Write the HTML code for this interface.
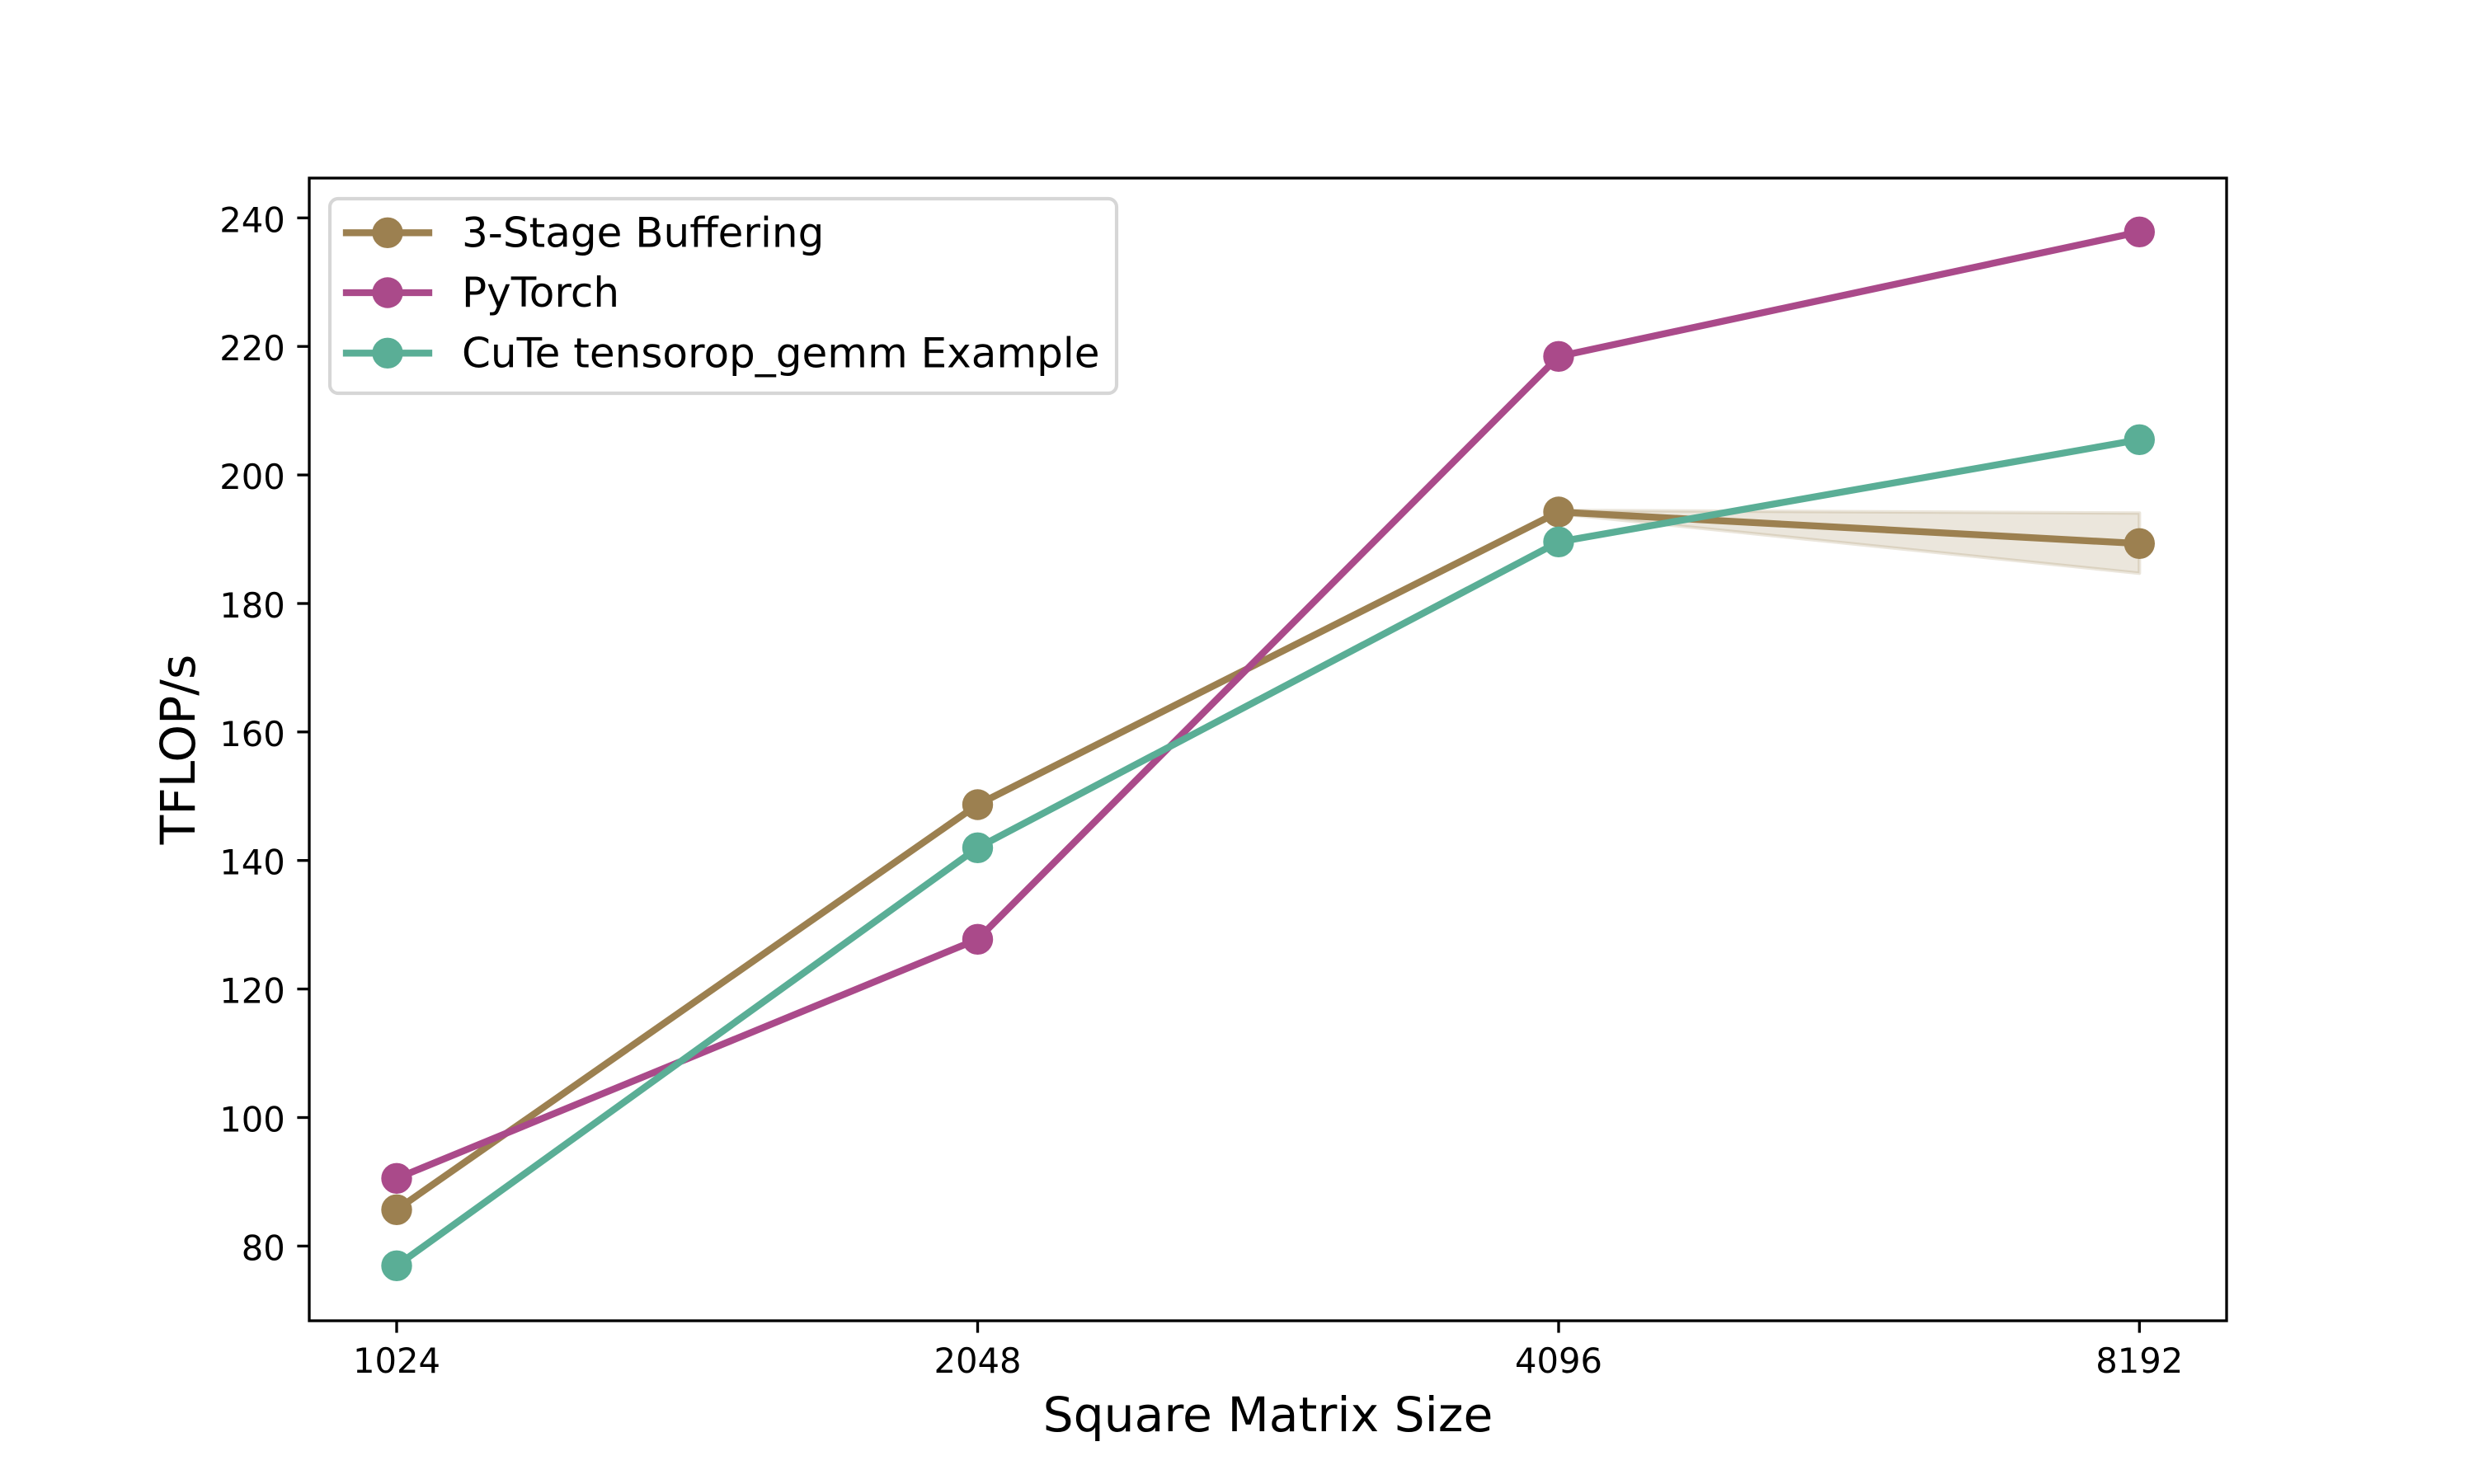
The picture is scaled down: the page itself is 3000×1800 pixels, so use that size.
<!DOCTYPE html>
<html>
<head>
<meta charset="utf-8">
<style>
html,body{margin:0;padding:0;background:#fff;}
svg{display:block;}
text{font-family:"DejaVu Sans","Liberation Sans",sans-serif;fill:#000;}
</style>
</head>
<body>
<svg width="3000" height="1800" viewBox="0 0 3000 1800" xmlns="http://www.w3.org/2000/svg">
<rect x="0" y="0" width="3000" height="1800" fill="#ffffff"/>

<!-- fill band for 3-Stage -->
<polygon points="481,1467.3 1185.5,976 1890,619 2594.3,622.3 2594.3,695.3 1890,623 1185.5,976 481,1467.3"
 fill="#9C8050" fill-opacity="0.2" stroke="#9C8050" stroke-opacity="0.2" stroke-width="4.17" stroke-linejoin="round"/>

<!-- 3-Stage Buffering -->
<g stroke="#9C8050" fill="#9C8050">
<polyline points="481,1467.3 1185.5,976 1890,621 2594.3,659.3" fill="none" stroke-width="8.33" stroke-linejoin="round" stroke-linecap="square"/>
<g stroke="none">
<circle cx="481" cy="1467.3" r="18.7"/>
<circle cx="1185.5" cy="976" r="18.7"/>
<circle cx="1890" cy="621" r="18.7"/>
<circle cx="2594.3" cy="659.3" r="18.7"/>
</g>
</g>

<!-- PyTorch -->
<g stroke="#AA4A8A" fill="#AA4A8A">
<polyline points="481,1429.3 1185.5,1139.3 1890,432.3 2594.3,281.3" fill="none" stroke-width="8.33" stroke-linejoin="round" stroke-linecap="square"/>
<g stroke="none">
<circle cx="481" cy="1429.3" r="18.7"/>
<circle cx="1185.5" cy="1139.3" r="18.7"/>
<circle cx="1890" cy="432.3" r="18.7"/>
<circle cx="2594.3" cy="281.3" r="18.7"/>
</g>
</g>

<!-- CuTe -->
<g stroke="#5AAE96" fill="#5AAE96">
<polyline points="481,1535.3 1185.5,1028.3 1890,657.3 2594.3,533.3" fill="none" stroke-width="8.33" stroke-linejoin="round" stroke-linecap="square"/>
<g stroke="none">
<circle cx="481" cy="1535.3" r="18.7"/>
<circle cx="1185.5" cy="1028.3" r="18.7"/>
<circle cx="1890" cy="657.3" r="18.7"/>
<circle cx="2594.3" cy="533.3" r="18.7"/>
</g>
</g>

<!-- axes spines -->
<rect x="375" y="216" width="2325" height="1386" fill="none" stroke="#000" stroke-width="3.33" stroke-linejoin="miter"/>

<!-- x ticks -->
<g stroke="#000" stroke-width="3.33">
<line x1="481" y1="1602" x2="481" y2="1616.6"/>
<line x1="1185.5" y1="1602" x2="1185.5" y2="1616.6"/>
<line x1="1890" y1="1602" x2="1890" y2="1616.6"/>
<line x1="2594.3" y1="1602" x2="2594.3" y2="1616.6"/>
</g>
<g font-size="41.67" text-anchor="middle">
<text x="481" y="1665">1024</text>
<text x="1185.5" y="1665">2048</text>
<text x="1890" y="1665">4096</text>
<text x="2594.3" y="1665">8192</text>
</g>

<!-- y ticks -->
<g stroke="#000" stroke-width="3.33">
<line x1="360.4" y1="1511.4" x2="375" y2="1511.4"/>
<line x1="360.4" y1="1355.5" x2="375" y2="1355.5"/>
<line x1="360.4" y1="1199.6" x2="375" y2="1199.6"/>
<line x1="360.4" y1="1043.7" x2="375" y2="1043.7"/>
<line x1="360.4" y1="887.8" x2="375" y2="887.8"/>
<line x1="360.4" y1="732.0" x2="375" y2="732.0"/>
<line x1="360.4" y1="576.1" x2="375" y2="576.1"/>
<line x1="360.4" y1="420.2" x2="375" y2="420.2"/>
<line x1="360.4" y1="264.3" x2="375" y2="264.3"/>
</g>
<g font-size="41.67" text-anchor="end">
<text x="345.8" y="1528.4">80</text>
<text x="345.8" y="1372.5">100</text>
<text x="345.8" y="1216.6">120</text>
<text x="345.8" y="1060.7">140</text>
<text x="345.8" y="904.8">160</text>
<text x="345.8" y="749.0">180</text>
<text x="345.8" y="593.1">200</text>
<text x="345.8" y="437.2">220</text>
<text x="345.8" y="281.3">240</text>
</g>

<!-- axis labels -->
<text x="1537.5" y="1736" font-size="58.33" text-anchor="middle">Square Matrix Size</text>
<text x="236" y="909" font-size="58.33" text-anchor="middle" transform="rotate(-90 236 909)">TFLOP/s</text>

<!-- legend -->
<rect x="400" y="241" width="954" height="236" rx="10" ry="10" fill="#ffffff" fill-opacity="0.8" stroke="#cccccc" stroke-opacity="0.8" stroke-width="4.17"/>
<g stroke-width="8.33" stroke-linecap="square">
<line x1="420" y1="282.3" x2="520" y2="282.3" stroke="#9C8050"/>
<line x1="420" y1="355" x2="520" y2="355" stroke="#AA4A8A"/>
<line x1="420" y1="428.3" x2="520" y2="428.3" stroke="#5AAE96"/>
</g>
<circle cx="470" cy="282.3" r="18.7" fill="#9C8050"/>
<circle cx="470" cy="355" r="18.7" fill="#AA4A8A"/>
<circle cx="470" cy="428.3" r="18.7" fill="#5AAE96"/>
<g font-size="50">
<text x="560" y="299.5">3-Stage Buffering</text>
<text x="560" y="372">PyTorch</text>
<text x="560" y="445.3">CuTe tensorop_gemm Example</text>
</g>
</svg>
</body>
</html>
